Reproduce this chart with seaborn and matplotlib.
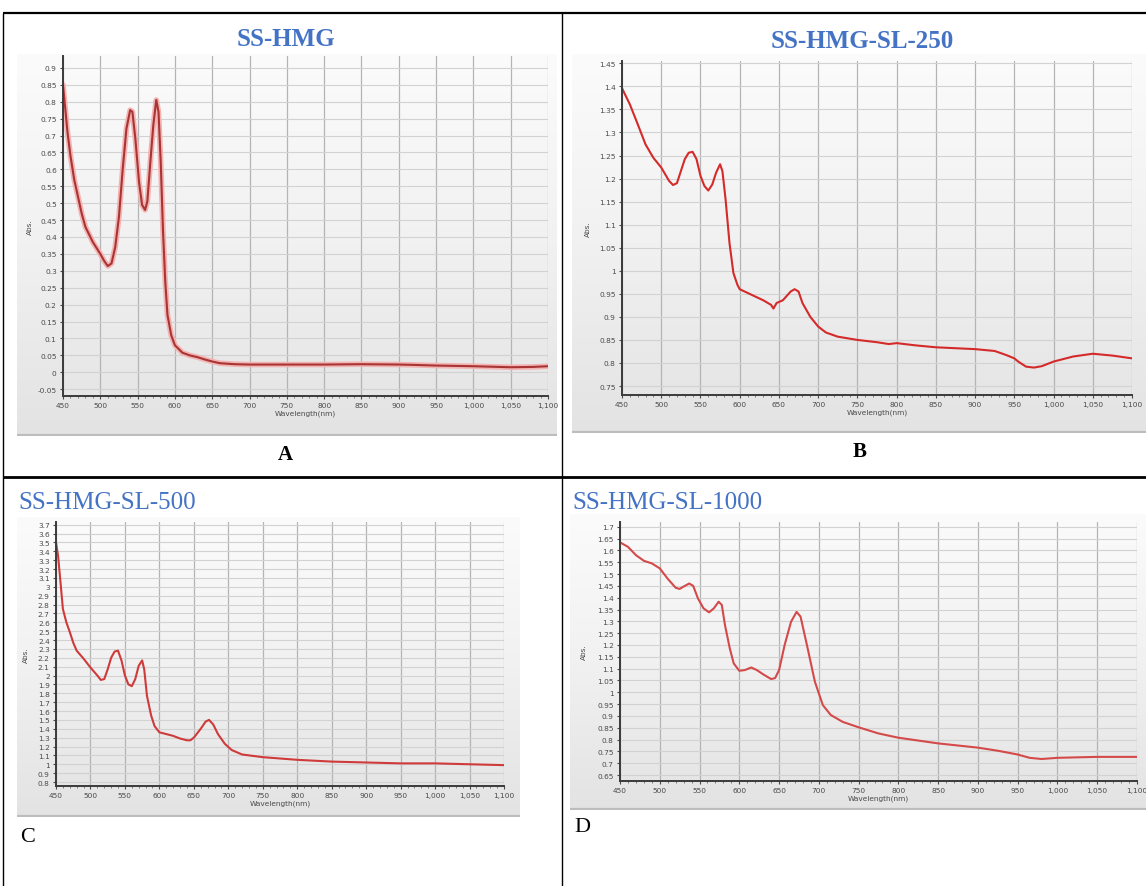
import numpy as np
import matplotlib
matplotlib.use("Agg")
import matplotlib.pyplot as plt
import matplotlib.patheffects as pe
from matplotlib.lines import Line2D
from matplotlib.colors import LinearSegmentedColormap
from matplotlib.ticker import FuncFormatter, MultipleLocator, FixedLocator
import seaborn as sns

# ---------------- data ----------------
titles = ["SS-HMG", "SS-HMG-SL-250", "SS-HMG-SL-500", "SS-HMG-SL-1000"]
letters = ["A", "B", "C", "D"]
x_ticks = [450, 500, 550, 600, 650, 700, 750, 800, 850, 900, 950, 1000, 1050, 1100]

wl_a = [450, 453, 456, 460, 465, 470, 475, 480, 490, 500, 505, 510, 515, 520, 525, 530, 535, 540, 543, 547,
        552, 556, 560, 563, 567, 571, 575, 578, 581, 584, 587, 590, 595, 600, 610, 620, 630, 640, 650, 660,
        680, 700, 750, 800, 850, 900, 920, 950, 1000, 1050, 1080, 1100]
abs_a = [0.85, 0.78, 0.71, 0.64, 0.57, 0.52, 0.47, 0.43, 0.385, 0.35, 0.33, 0.314, 0.322, 0.37, 0.46, 0.60, 0.72, 0.775, 0.77, 0.69,
         0.56, 0.495, 0.48, 0.505, 0.62, 0.73, 0.805, 0.77, 0.62, 0.42, 0.27, 0.17, 0.11, 0.08, 0.058, 0.05, 0.045, 0.038, 0.032, 0.027,
         0.024, 0.023, 0.023, 0.023, 0.024, 0.023, 0.022, 0.02, 0.018, 0.015, 0.016, 0.018]

wl_b = [450, 460, 470, 480, 490, 500, 510, 515, 520, 525, 530, 535, 540, 545, 550, 555, 560, 565, 570, 575, 578,
        582, 587, 592, 597, 600, 610, 620, 630, 640, 643, 647, 655, 665, 670, 675, 680, 690, 700,
        710, 725, 750, 775, 790, 800, 825, 850, 875, 900, 925, 940, 950, 955, 965, 975, 985, 1000, 1025, 1050, 1075, 1100]
abs_b = [1.396, 1.361, 1.318, 1.274, 1.245, 1.224, 1.195, 1.186, 1.19, 1.216, 1.242, 1.256, 1.258, 1.242, 1.206, 1.184, 1.174, 1.187, 1.213, 1.231, 1.216,
         1.155, 1.06, 0.995, 0.97, 0.96, 0.952, 0.944, 0.936, 0.926, 0.918, 0.93, 0.936, 0.955, 0.96, 0.955, 0.93, 0.9, 0.879,
         0.866, 0.857, 0.85, 0.845, 0.841, 0.843, 0.838, 0.834, 0.832, 0.83, 0.826, 0.817, 0.81, 0.803, 0.792, 0.79, 0.793, 0.803, 0.814, 0.82, 0.816, 0.81]

wl_c = [450, 453, 457, 460, 465, 470, 475, 480, 490, 500, 510, 515, 520, 525, 530, 535, 540, 545, 550, 555,
        560, 565, 570, 575, 578, 582, 588, 593, 600, 610, 620, 630, 640, 645, 650, 660, 667, 672, 678, 685,
        695, 705, 720, 750, 800, 850, 900, 950, 1000, 1050, 1100]
abs_c = [3.50, 3.35, 3.01, 2.75, 2.60, 2.49, 2.37, 2.28, 2.19, 2.09, 2.0, 1.95, 1.96, 2.07, 2.2, 2.27, 2.28, 2.17, 2.0, 1.9,
         1.88, 1.96, 2.11, 2.17, 2.07, 1.77, 1.55, 1.43, 1.36, 1.34, 1.32, 1.29, 1.27, 1.27, 1.30, 1.40, 1.48, 1.50, 1.45, 1.34,
         1.23, 1.16, 1.11, 1.08, 1.05, 1.03, 1.02, 1.01, 1.01, 1.0, 0.99]

wl_d = [450, 460, 470, 480, 490, 500, 510, 520, 525, 530, 537, 542, 548, 555, 562, 568, 574, 578, 582, 588,
        593, 600, 607, 615, 622, 630, 640, 645, 650, 657, 665, 672, 677, 685, 695, 705, 715, 730, 750, 775,
        800, 850, 900, 925, 950, 965, 980, 1000, 1050, 1100]
abs_d = [1.634, 1.615, 1.58, 1.556, 1.545, 1.524, 1.48, 1.442, 1.437, 1.447, 1.46, 1.45, 1.397, 1.355, 1.338, 1.355, 1.383, 1.369, 1.284, 1.186,
         1.122, 1.091, 1.094, 1.105, 1.094, 1.076, 1.056, 1.06, 1.094, 1.2, 1.298, 1.34, 1.32, 1.2, 1.045, 0.946, 0.904, 0.875, 0.852, 0.826,
         0.808, 0.784, 0.766, 0.753, 0.737, 0.723, 0.718, 0.723, 0.727, 0.727]

yticks_a = [round(-0.05 + 0.05 * i, 2) for i in range(20)]
yticks_b = [round(0.75 + 0.05 * i, 2) for i in range(15)]
yticks_c = [round(0.8 + 0.1 * i, 1) for i in range(30)]
yticks_d = [round(0.65 + 0.05 * i, 2) for i in range(22)]

# ---------------- layout (pixels) ----------------
W, H = 1146, 887
sns.set_theme(style="white")
plt.rcParams["font.family"] = ["DejaVu Sans"]

fig = plt.figure(figsize=(W / 100, H / 100), dpi=100)
fig.patch.set_facecolor("white")


def fbox(x0, y0, x1, y1):
    return [x0 / W, 1 - y1 / H, (x1 - x0) / W, (y1 - y0) / H]


def fline(x0, y0, x1, y1, lw):
    fig.add_artist(Line2D([x0 / W, x1 / W], [1 - y0 / H, 1 - y1 / H],
                          transform=fig.transFigure, color="black", lw=lw,
                          solid_capstyle="butt"))


grad = LinearSegmentedColormap.from_list("g", ["#fbfbfb", "#f1f1f1", "#e3e3e3"])

panels = [
    dict(bg=(17, 55, 557, 437), ax=(63, 57, 548, 397), ylim=(-0.07, 0.935), yt=yticks_a,
         x=wl_a, y=abs_a, color="#a93434", halo="#f3b3b3", ylab_dx=30),
    dict(bg=(572, 55, 1146, 434), ax=(622, 62, 1132, 396), ylim=(0.7305, 1.455), yt=yticks_b,
         x=wl_b, y=abs_b, color="#d42a2a", halo=None, ylab_dx=31),
    dict(bg=(17, 518, 520, 818), ax=(56, 523, 504, 787), ylim=(0.755, 3.73), yt=yticks_c,
         x=wl_c, y=abs_c, color="#cf3a3a", halo=None, ylab_dx=27),
    dict(bg=(570, 515, 1146, 811), ax=(620, 523, 1137, 782), ylim=(0.625, 1.72), yt=yticks_d,
         x=wl_d, y=abs_d, color="#d44a4a", halo=None, ylab_dx=33),
]

for p in panels:
    # grey screenshot-like background
    bx0, by0, bx1, by1 = p["bg"]
    bg = fig.add_axes(fbox(bx0, by0, bx1, by1))
    bg.imshow(np.linspace(0, 1, 200).reshape(-1, 1), cmap=grad, aspect="auto",
              extent=(0, 1, 0, 1), origin="upper")
    bg.axhline(0.002, color="#bdbdbd", lw=1.6)
    bg.set_axis_off()

    x0, y0, x1, y1 = p["ax"]
    ax = fig.add_axes(fbox(x0, y0, x1, y1))
    ax.patch.set_alpha(0)
    sns.lineplot(x=p["x"], y=p["y"], ax=ax, color=p["color"], lw=1.5, estimator=None)
    line = ax.lines[-1]
    if p["halo"]:
        line.set_path_effects([pe.Stroke(linewidth=4.0, foreground=p["halo"]), pe.Normal()])
    ax.set_xlim(450, 1100)
    ax.set_ylim(*p["ylim"])
    ax.xaxis.set_major_locator(FixedLocator(x_ticks))
    ax.xaxis.set_minor_locator(MultipleLocator(10))
    ax.yaxis.set_major_locator(FixedLocator(p["yt"]))
    ax.xaxis.set_major_formatter(FuncFormatter(lambda v, pos: f"{v:,.0f}"))
    ax.yaxis.set_major_formatter(FuncFormatter(lambda v, pos: f"{v:g}"))
    ax.grid(True, axis="x", which="major", color="#b4b4b4", lw=0.9)
    ax.grid(True, axis="y", which="major", color="#d2d2d2", lw=0.8)
    ax.set_axisbelow(True)
    for s in ("top", "right"):
        ax.spines[s].set_visible(False)
    for s in ("left", "bottom"):
        ax.spines[s].set_color("#3a3a3a")
        ax.spines[s].set_linewidth(1.4)
    ax.tick_params(axis="both", which="major", labelsize=5.3, labelcolor="#4a4a4a",
                   length=2.5, width=0.8, color="#4a4a4a", pad=2, direction="out",
                   bottom=True, left=True)
    ax.tick_params(axis="x", which="minor", length=1.5, width=0.6, color="#6a6a6a",
                   direction="out", bottom=True)
    ax.set_xlabel("Wavelength(nm)", fontsize=5.3, color="#4a4a4a", labelpad=1)
    ax.set_ylabel("Abs.", fontsize=5.3, color="#4a4a4a")
    ax.yaxis.set_label_coords(-p["ylab_dx"] / (x1 - x0), 0.5)

# ---------------- table frame ----------------
fline(3, 14, 1146, 14, 1.6)
fline(3, 14, 3, 887, 1.0)
fline(562, 14, 562, 887, 1.0)
fline(3, 478, 1146, 478, 2.0)

# ---------------- texts ----------------
serif = ["Liberation Serif", "DejaVu Serif"]
blue = "#4472c4"
fig.text(286 / W, 1 - 39 / H, titles[0], ha="center", va="center", family=serif,
         weight="bold", color=blue, fontsize=18)
fig.text(862 / W, 1 - 42 / H, titles[1], ha="center", va="center", family=serif,
         weight="bold", color=blue, fontsize=18)
fig.text(18 / W, 1 - 503 / H, titles[2], ha="left", va="center", family=serif,
         color=blue, fontsize=18)
fig.text(572 / W, 1 - 503 / H, titles[3], ha="left", va="center", family=serif,
         color=blue, fontsize=18)

fig.text(285 / W, 1 - 455 / H, letters[0], ha="center", va="center", family=serif,
         weight="bold", color="black", fontsize=15)
fig.text(860 / W, 1 - 452 / H, letters[1], ha="center", va="center", family=serif,
         weight="bold", color="black", fontsize=15)
fig.text(20 / W, 1 - 838 / H, letters[2], ha="left", va="center", family=serif,
         color="black", fontsize=16)
fig.text(574 / W, 1 - 828 / H, letters[3], ha="left", va="center", family=serif,
         color="black", fontsize=16)

fig.savefig("out.png", dpi=100, facecolor="white")
